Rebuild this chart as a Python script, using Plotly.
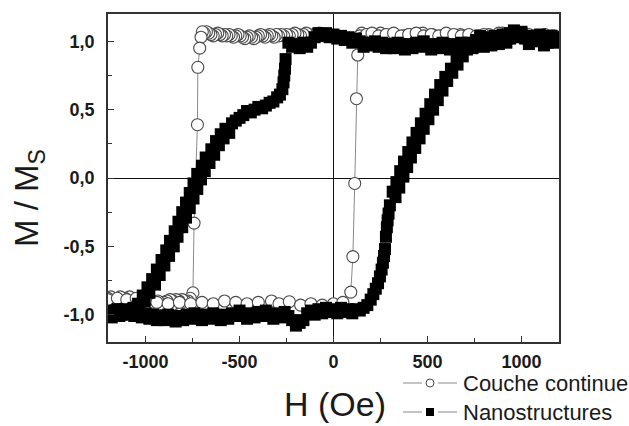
import plotly.graph_objects as go

# ---------------- data: Couche continue (open circles) ----------------
h_cont_down = [1200, 1175, 1150, 1125, 1100, 1075, 1050, 1025, 1000, 975, 950, 925, 900, 875,
               850, 825, 800, 775, 750, 725, 700, 675, 650, 625, 600, 575, 550, 525, 500, 475,
               450, 425, 400, 375, 350, 325, 300, 275, 250, 225, 200, 175, 150, 140, -25, -50,
               -75, -100, -115, -130, -145, -160, -175, -190, -205, -220, -235, -250, -265, -280,
               -292, -304, -316, -328, -340, -352, -364, -376, -388, -400, -412, -424, -436, -448,
               -460, -472, -484, -496, -508, -520, -532, -544, -556, -568, -580, -592, -604, -616,
               -628, -640, -652, -664, -676, -688, -698, -705, -712, -722, -724, -742, -748, -762,
               -774, -782, -790, -798, -806, -814, -822, -830, -838, -846, -854, -862, -870, -878,
               -886, -894, -902, -915, -935, -960, -985, -1010, -1035, -1060, -1085, -1110, -1135,
               -1160, -1185, -1200]
m_cont_down = [1.02, 1.04, 1.03, 1.05, 1.03, 1.04, 1.02, 1.04, 1.03, 1.05, 1.04, 1.03, 1.06, 1.04,
               1.03, 1.05, 1.03, 1.04, 1.02, 1.04, 1.03, 1.05, 1.04, 1.03, 1.05, 1.04, 1.03, 1.05,
               1.04, 1.06, 1.04, 1.03, 1.05, 1.04, 1.03, 1.05, 1.04, 1.05, 1.06, 1.04, 1.05, 1.04,
               1.06, 1.04, 1.05, 1.04, 1.06, 1.05, 1.04, 1.05, 1.06, 1.05, 1.04, 1.05, 1.06, 1.05,
               1.04, 1.05, 1.04, 1.05, 1.04, 1.05, 1.03, 1.04, 1.05, 1.04, 1.03, 1.04, 1.05, 1.04,
               1.03, 1.02, 1.03, 1.04, 1.03, 1.02, 1.03, 1.04, 1.05, 1.04, 1.03, 1.04, 1.05, 1.04,
               1.05, 1.04, 1.05, 1.06, 1.05, 1.04, 1.05, 1.06, 1.07, 1.06, 1.07, 1.03, 0.95, 0.81,
               0.39, -0.33, -0.84, -0.88, -0.90, -0.92, -0.90, -0.93, -0.89, -0.92, -0.90, -0.93,
               -0.89, -0.92, -0.90, -0.93, -0.89, -0.92, -0.90, -0.93, -0.91, -0.92, -0.90, -0.91,
               -0.89, -0.90, -0.88, -0.89, -0.87, -0.88, -0.87, -0.89, -0.87, -0.88]
h_cont_up = [-1200, -1150, -1100, -1050, -1000, -940, -880, -820, -760, -700, -640, -580, -520,
             -460, -400, -330, -290, -235, -175, -120, -60, 0, 50, 92, 103, 113, 122, 129, 145,
             175, 205, 240, 280, 320, 360, 400, 440, 480, 520, 560, 600, 640, 680, 720, 760, 800,
             840, 880, 920, 960, 1000, 1040, 1080, 1120, 1160, 1200]
m_cont_up = [-0.89, -0.88, -0.89, -0.88, -0.90, -0.91, -0.92, -0.91, -0.92, -0.91, -0.92, -0.90,
             -0.91, -0.92, -0.91, -0.90, -0.92, -0.905, -0.93, -0.92, -0.93, -0.92, -0.91, -0.835,
             -0.575, -0.04, 0.58, 0.90, 1.02, 1.05, 1.06, 1.04, 1.05, 1.06, 1.04, 1.05, 1.06, 1.04,
             1.05, 1.04, 1.06, 1.05, 1.04, 1.05, 1.04, 1.05, 1.04, 1.06, 1.04, 1.05, 1.04, 1.05,
             1.04, 1.03, 1.04, 1.03]

# ---------------- data: Nanostructures (filled squares) ----------------
h_nano_down = [1200, 1180, 1160, 1140, 1120, 1100, 1080, 1060, 1040, 1020, 1000, 980, 960, 940,
               920, 900, 880, 860, 840, 820, 800, 780, 760, 740, 720, 700, 680, 660, 640, 620,
               600, 580, 560, 540, 520, 500, 480, 460, 440, 420, 400, 380, 360, 340, 320, 300,
               280, 260, 240, 220, 200, 180, 160, 140, 120, 100, 80, 60, 40, 20, 0, -20, -40, -60,
               -80, -100, -120, -140, -160, -180, -200, -220, -240,
               -255, -258, -262, -266, -272, -285, -300, -320, -340, -360, -380, -400, -420, -440,
               -460, -480, -500, -520,
               -540, -575, -555, -600, -585, -625, -610, -650, -635, -680, -660, -700, -685, -725,
               -705, -745, -725, -765, -745, -785, -765, -805, -785, -825, -805, -845, -830, -870,
               -850, -890, -875, -915, -900, -940, -925, -965, -950, -990, -980, -1015, -1005,
               -1040, -1035, -1065, -1090, -1110, -1130, -1150, -1170, -1190, -1200]
m_nano_down = [1.02, 0.99, 1.04, 1.00, 0.97, 1.03, 1.00, 1.04, 0.98, 1.02, 1.06, 1.03, 1.07, 1.02,
               0.99, 1.03, 0.98, 1.01, 0.97, 1.00, 0.96, 1.01, 0.98, 0.95, 0.99, 0.96, 0.99, 0.95,
               0.98, 0.94, 0.97, 0.99, 0.95, 0.98, 0.94, 0.97, 1.00, 0.96, 0.99, 0.95, 0.98, 0.94,
               0.97, 0.99, 0.95, 0.98, 0.95, 0.99, 0.96, 1.00, 0.97, 0.99, 0.96, 1.00, 1.02, 0.99,
               1.03, 1.01, 1.04, 1.02, 1.05, 1.03, 1.06, 1.04, 1.06, 1.03, 0.99, 0.96, 0.99, 0.95,
               0.98, 0.96, 0.99,
               0.87, 0.80, 0.75, 0.70, 0.65, 0.61, 0.59, 0.56, 0.55, 0.53, 0.51, 0.52, 0.50, 0.48,
               0.49, 0.46, 0.44, 0.42,
               0.40, 0.36, 0.33, 0.32, 0.29, 0.27, 0.24, 0.21, 0.17, 0.15, 0.11, 0.09, 0.05, 0.03,
               -0.01, -0.04, -0.08, -0.11, -0.15, -0.18, -0.22, -0.25, -0.29, -0.32, -0.36, -0.39,
               -0.43, -0.46, -0.50, -0.53, -0.57, -0.60, -0.64, -0.67, -0.71, -0.74, -0.78, -0.80,
               -0.84, -0.86, -0.90, -0.92, -0.96, -0.95, -0.99, -0.97, -1.00, -0.96, -0.99, -0.97,
               -1.00]
h_nano_up = [-1200, -1180, -1160, -1140, -1120, -1100, -1080, -1060, -1040, -1020, -1000, -980,
             -960, -940, -920, -900, -880, -860, -840, -820, -800, -780, -760, -740, -720, -700,
             -680, -660, -640, -620, -600, -580, -560, -540, -520, -500, -480, -460, -440, -420,
             -400, -380, -360, -340, -320, -300, -280, -260, -240, -220, -200, -180, -160, -140,
             -120, -100, -80, -60, -40, -20, 0, 20, 40, 60, 80, 100, 120, 140,
             160, 180, 198, 212, 225, 237, 247, 256, 263, 269, 274, 279, 284, 288, 293,
             300, 330, 315, 350, 335, 372, 355, 392, 375, 412, 398, 435, 420, 458, 442, 480, 465,
             505, 490, 530, 515, 555, 540, 580, 568, 605, 595, 632, 625, 660, 655, 688, 680, 710,
             705, 735,
             760, 780, 800, 820, 840, 860, 880, 900, 920, 940, 960, 980, 1000, 1020, 1040, 1060,
             1080, 1100, 1120, 1140, 1160, 1180, 1200]
m_nano_up = [-0.99, -1.02, -0.97, -1.01, -0.96, -1.00, -0.97, -1.01, -0.98, -1.02, -0.99, -1.03,
             -1.00, -1.04, -1.01, -1.04, -1.00, -1.03, -1.05, -1.01, -1.04, -1.00, -1.03, -0.99,
             -1.02, -1.04, -1.00, -1.03, -0.99, -1.02, -1.04, -1.00, -1.03, -0.99, -1.01, -0.97,
             -1.00, -1.03, -0.99, -1.02, -0.98, -1.01, -0.97, -1.00, -1.03, -0.99, -1.02, -0.98,
             -1.01, -1.04, -1.08, -1.06, -1.04, -0.99, -0.97, -1.00, -0.96, -0.99, -0.95, -0.98,
             -0.96, -0.99, -0.95, -0.98, -0.96, -0.99, -0.96, -0.97,
             -0.95, -0.93, -0.89, -0.85, -0.81, -0.77, -0.72, -0.67, -0.62, -0.57, -0.52, -0.43,
             -0.36, -0.31, -0.26,
             -0.20, -0.14, -0.10, -0.07, -0.03, 0.01, 0.05, 0.08, 0.12, 0.15, 0.19, 0.22, 0.26,
             0.29, 0.33, 0.36, 0.40, 0.43, 0.47, 0.50, 0.54, 0.57, 0.61, 0.64, 0.68, 0.71, 0.74,
             0.77, 0.80, 0.83, 0.86, 0.89, 0.92, 0.94, 0.97, 0.98,
             1.01, 1.04, 0.99, 1.03, 1.00, 1.04, 1.01, 1.05, 1.02, 1.06, 1.08, 1.05, 1.07, 1.03,
             1.00, 1.04, 1.01, 1.05, 1.02, 0.99, 1.03, 1.00, 1.03]

x_tick_vals = [-1000, -500, 0, 500, 1000]
x_tick_text = ["-1000", "-500", "0", "500", "1000"]
y_tick_vals = [-1.0, -0.5, 0.0, 0.5, 1.0]
y_tick_text = ["-1,0", "-0,5", "0,0", "0,5", "1,0"]

series_names = ["Couche continue", "Nanostructures"]

# ---------------- figure ----------------
W, H = 629, 426
ML, MR, MT, MB = 108, 70, 14, 84
PW, PH = W - ML - MR, H - MT - MB


def px_x(p):
    return (p - ML) / PW


def px_y(p):
    return (H - MB - p) / PH


fig = go.Figure()

fig.add_trace(go.Scatter(
    x=h_cont_down + h_cont_up, y=m_cont_down + m_cont_up,
    mode="lines+markers", showlegend=False, name=series_names[0],
    line=dict(color="#8a8a8a", width=1),
    marker=dict(symbol="circle", size=12, color="white",
                line=dict(color="#4a4a4a", width=1.1)),
))
fig.add_trace(go.Scatter(
    x=h_nano_down + h_nano_up, y=m_nano_down + m_nano_up,
    mode="lines+markers", showlegend=False, name=series_names[1],
    line=dict(color="#8a8a8a", width=1),
    marker=dict(symbol="square", size=12, color="black", line=dict(width=0)),
))

axis_common = dict(
    showgrid=False, showline=True, mirror=True, linecolor="#333333", linewidth=1.5,
    ticks="inside", ticklen=6, tickwidth=1.2, tickcolor="#333333",
    zeroline=True, zerolinecolor="#111111", zerolinewidth=1.3,
    automargin=False,
    tickfont=dict(family="Liberation Sans, Arial, sans-serif", size=18, color="#1a1a1a",
                  weight="bold"),
)

fig.update_xaxes(range=[-1200, 1200], tickvals=x_tick_vals, ticktext=x_tick_text,
                 minor=dict(ticks="inside", ticklen=4, tickcolor="#333333", dtick=250,
                            tick0=-1000, showgrid=False),
                 ticklabelstandoff=3, **axis_common)
fig.update_yaxes(range=[-1.2, 1.2], tickvals=y_tick_vals, ticktext=y_tick_text,
                 minor=dict(ticks="inside", ticklen=4, tickcolor="#333333", dtick=0.25,
                            tick0=-1.0, showgrid=False),
                 ticklabelstandoff=8, **axis_common)

# ----- hand-built legend (below right, outside plot) -----
row_y = [383, 412]
sym_x, text_x = 430, 461
seg_px = [(403, 422), (438, 457)]
shapes = []
annotations = []
for i, nm in enumerate(series_names):
    yy = px_y(row_y[i])
    for a, b in seg_px:
        shapes.append(dict(type="line", xref="paper", yref="paper",
                           x0=px_x(a), x1=px_x(b), y0=yy, y1=yy,
                           line=dict(color="#8a8a8a", width=1)))
    r = 4
    if i == 0:
        shapes.append(dict(type="circle", xref="paper", yref="paper",
                           x0=px_x(sym_x - r), x1=px_x(sym_x + r),
                           y0=px_y(row_y[i] + r), y1=px_y(row_y[i] - r),
                           fillcolor="white", line=dict(color="#4a4a4a", width=1)))
    else:
        shapes.append(dict(type="rect", xref="paper", yref="paper",
                           x0=px_x(sym_x - r), x1=px_x(sym_x + r),
                           y0=px_y(row_y[i] + r), y1=px_y(row_y[i] - r),
                           fillcolor="black", line=dict(color="black", width=0)))
    annotations.append(dict(text=nm, xref="paper", yref="paper", x=px_x(text_x), y=yy,
                            xanchor="left", yanchor="middle", showarrow=False,
                            font=dict(size=22, color="#1a1a1a")))

annotations.append(dict(text="H (Oe)", xref="paper", yref="paper", x=px_x(335), y=px_y(404),
                        xanchor="center", yanchor="middle", showarrow=False,
                        font=dict(size=34, color="#1a1a1a")))
annotations.append(dict(text="M / M<sub>S</sub>", xref="paper", yref="paper",
                        x=px_x(29), y=px_y(198),
                        xanchor="center", yanchor="middle", textangle=-90, showarrow=False,
                        font=dict(size=33, color="#1a1a1a")))

fig.update_layout(
    width=W, height=H,
    margin=dict(l=ML, r=MR, t=MT, b=MB, autoexpand=False),
    paper_bgcolor="white", plot_bgcolor="white",
    font=dict(family="Liberation Sans, Arial, sans-serif", color="#1a1a1a"),
    showlegend=False,
    shapes=shapes,
    annotations=annotations,
)

fig.write_html("out.html", config={"displayModeBar": False},
               post_script="document.body.style.margin='0px';document.body.style.overflow='hidden';")
